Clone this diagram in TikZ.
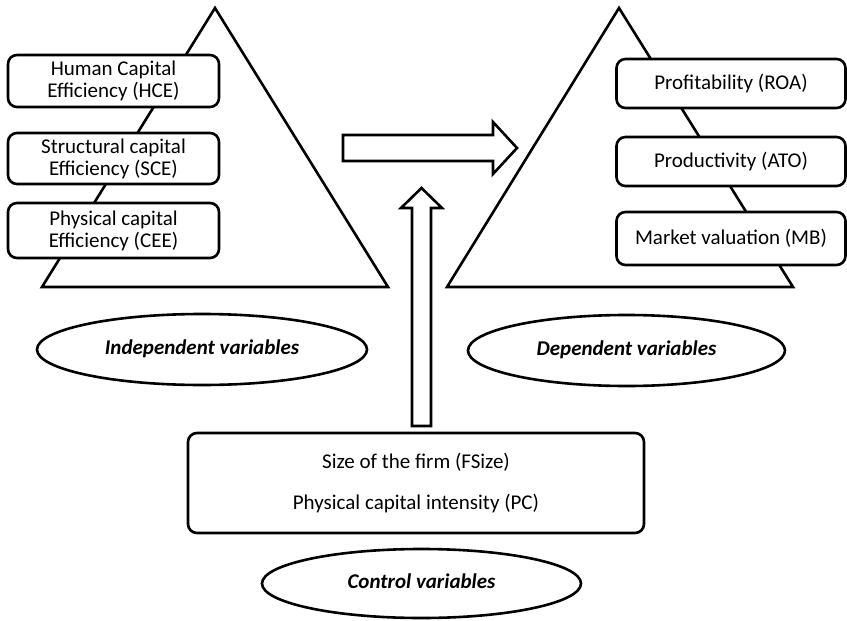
\documentclass[tikz,border=0pt]{standalone}
\usepackage{fontspec}
\setmainfont{Carlito}
\usetikzlibrary{shapes.geometric}
\tikzset{
  tri/.style={draw=black,line width=2.6pt,line join=miter,fill=white},
  vbox/.style={draw=black,line width=2.6pt,rounded corners=9pt,fill=white,align=center,
    font=\fontsize{21}{22}\selectfont,inner sep=0pt},
  oval/.style={draw=black,ellipse,line width=2.6pt,fill=white,inner sep=0pt,
    font=\fontsize{21}{22}\selectfont\bfseries\itshape},
  barrow/.style={draw=black,line width=2.6pt,fill=white,line join=miter}
}
\begin{document}
\begin{tikzpicture}[x=1pt,y=-1pt]
\useasboundingbox (0,0) rectangle (847,621);
% triangles
\draw[tri] (215,8) -- (388,287) -- (42,287) -- cycle;
\draw[tri] (619,8) -- (793,287) -- (447,287) -- cycle;
% left boxes
\node[vbox,minimum width=211pt,minimum height=52pt] (hce) at (113.5,81) {Human Capital\\Efficiency (HCE)};
\node[vbox,minimum width=211pt,minimum height=51pt] (sce) at (113.5,158.5) {Structural capital\\Efficiency (SCE)};
\node[vbox,minimum width=211pt,minimum height=55pt] (cee) at (113.5,230.5) {Physical capital\\Efficiency (CEE)};
% right boxes
\node[vbox,minimum width=229pt,minimum height=49pt] (roa) at (731,83.5) {Profitability (ROA)};
\node[vbox,minimum width=229pt,minimum height=49pt] (ato) at (731,161.5) {Productivity (ATO)};
\node[vbox,minimum width=229pt,minimum height=53pt] (mb) at (731,238.5) {Market valuation (MB)};
% horizontal block arrow
\draw[barrow] (343,135) -- (493,135) -- (493,122) -- (517,148) -- (493,174) -- (493,161) -- (343,161) -- cycle;
% vertical block arrow
\draw[barrow] (412,426) -- (412,208) -- (401,208) -- (421.5,188) -- (442,208) -- (431,208) -- (431,426) -- cycle;
% control box
\node[vbox,minimum width=456pt,minimum height=100pt] (ctrl) at (416,483) {Size of the firm (FSize)\\[19pt]Physical capital intensity (PC)};
% ellipses
\node[oval,minimum width=330pt,minimum height=71pt] (indep) at (202,349.5) {\raisebox{5pt}{Independent variables}};
\node[oval,minimum width=317pt,minimum height=71pt] (dep) at (626.5,350.5) {\raisebox{5pt}{Dependent variables}};
\node[oval,minimum width=319pt,minimum height=69pt] (control) at (421.5,583.5) {\raisebox{5pt}{Control variables}};
\end{tikzpicture}
\end{document}
